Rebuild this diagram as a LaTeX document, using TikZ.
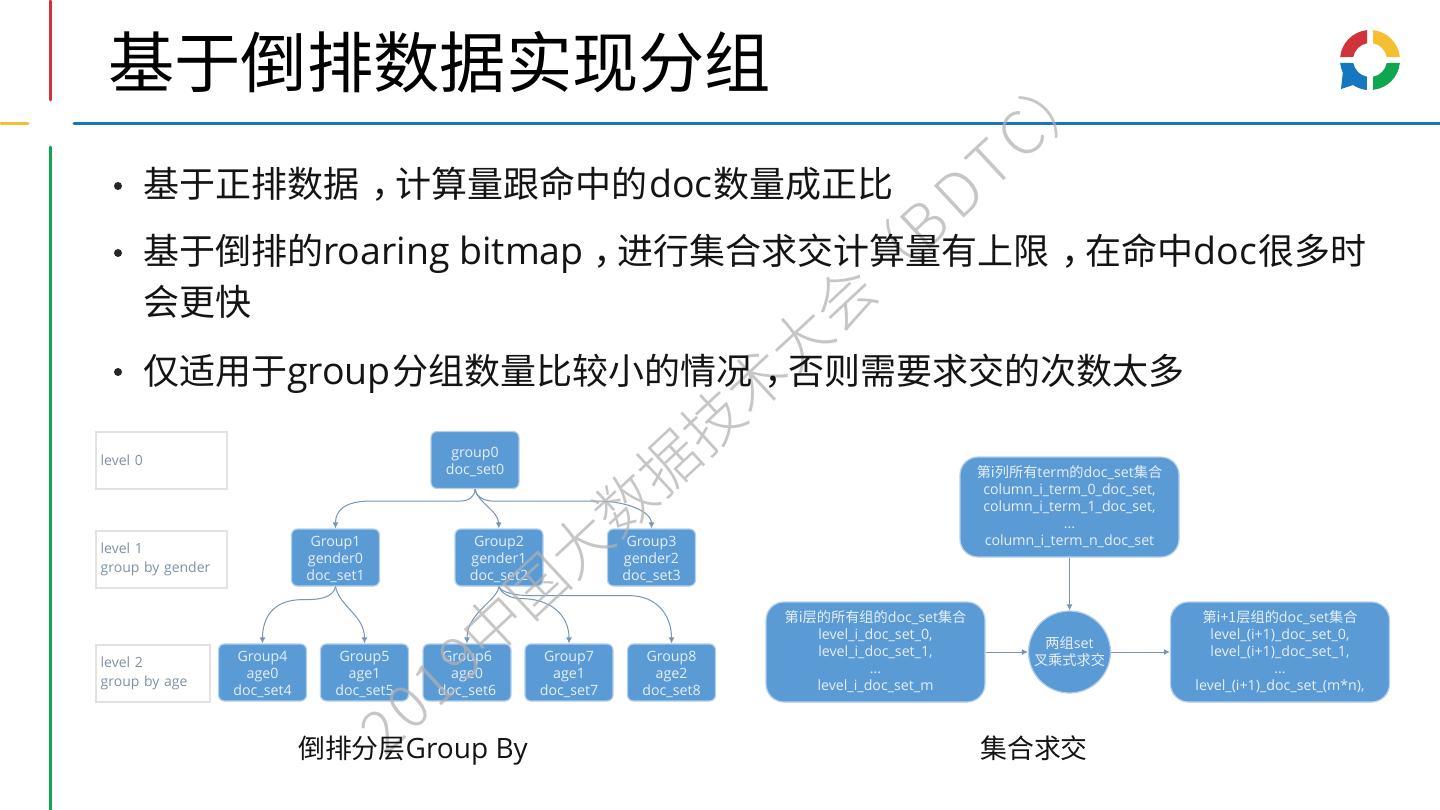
\documentclass[tikz,border=0pt]{standalone}
\usepackage{fontspec}
\usetikzlibrary{arrows.meta,calc}
\setmainfont{Open Sans}
\newfontfamily\cjk{Noto Sans CJK SC}[Scale=0.96]
\newfontfamily\cjks{Noto Sans CJK SC}
\newfontfamily\cjkl{Noto Sans CJK SC Light}
\newcommand{\C}[1]{{\cjk #1}}
\newcommand{\Cs}[1]{{\cjks #1}}
\newcommand{\CM}{{\cjk\hspace{.33em}，\hspace{-.33em}}}
\newcommand{\Tp}{\rule{0pt}{14.2pt}}
\definecolor{boxblue}{HTML}{5B9BD5}
\definecolor{boxedge}{HTML}{B4CFEA}
\definecolor{boxtext}{HTML}{E6EFF8}
\definecolor{conncol}{HTML}{7696B4}
\definecolor{lvltext}{HTML}{7F91A6}
\definecolor{lvledge}{HTML}{E2E2E2}
\definecolor{wm}{HTML}{B1B1B1}
\definecolor{railred}{HTML}{D2333A}
\definecolor{railyel}{HTML}{F4C032}
\definecolor{railgrn}{HTML}{0FA650}
\definecolor{railblu}{HTML}{1477C0}
\tikzset{
  x=1pt,y=-1pt,
  pbox/.style={draw=boxedge,fill=boxblue,line width=1.2pt,rounded corners=6pt,inner sep=0pt,align=center,text=boxtext,
    font=\fontsize{14.2}{17}\selectfont,minimum width=88pt,minimum height=57pt},
  bigbox/.style={pbox,rounded corners=18pt,minimum width=219pt,minimum height=100pt},
  lvl/.style={draw=lvledge,line width=2.4pt,fill=white,inner sep=0pt,text=lvltext,align=left,anchor=north west,
    font=\fontsize{14}{19}\selectfont,minimum height=57pt},
  conn/.style={draw=conncol,line width=1pt,-{Latex[length=6pt,width=6pt]}},
  body/.style={anchor=base west,inner sep=0pt,text=black!92,font=\fontsize{37.5}{40}\selectfont},
  bul/.style={circle,fill=black!85,inner sep=0pt,minimum size=8pt},
  captxt/.style={anchor=base,inner sep=0pt,text=black!92,font=\fontsize{28}{30}\selectfont},
  rail/.style={line width=3pt,line cap=round},
}
\begin{document}
\begin{tikzpicture}
\useasboundingbox (0,0) rectangle (1440,810);
\fill[white] (0,0) rectangle (1440,810);
% rails
\draw[rail,railred] (50.5,1) -- (50.5,100);
\draw[rail,railyel] (1,123.5) -- (28,123.5);
\draw[rail,railgrn] (50.5,147) -- (50.5,812);
\draw[rail,railblu] (74,123.5) -- (1442,123.5);
% title
\node[anchor=base west,inner sep=0pt,font=\fontsize{66.3}{70}\selectfont\cjks] (title) at (108,88) {基于倒排数据实现分组};
% logo
\begin{scope}[shift={(1370,60)},y=1pt]
\fill[railred] (95.7:30) arc[start angle=95.7,end angle=174.3,radius=30] -- (169.8:17) arc[start angle=169.8,end angle=100.2,radius=17] -- cycle;
\fill[railyel] (84.3:30) arc[start angle=84.3,end angle=5.7,radius=30] -- (10.2:17) arc[start angle=10.2,end angle=79.8,radius=17] -- cycle;
\fill[railgrn] (-5.7:30) arc[start angle=-5.7,end angle=-84.3,radius=30] -- (-79.8:17) arc[start angle=-79.8,end angle=-10.2,radius=17] -- cycle;
\fill[railblu] (-174.3:30) arc[start angle=-174.3,end angle=-155,radius=30] -- (-29,-29) -- (-17,-25) arc[start angle=-124,end angle=-95.7,radius=30] -- (-100.2:17) arc[start angle=-100.2,end angle=-169.8,radius=17] -- cycle;
\end{scope}
% level boxes
\node[lvl,minimum width=131pt,text width=121pt] (l0) at (94.5,431) {level 0};
\node[lvl,minimum width=131pt,text width=121pt] (l1) at (94.5,529.5) {level 1\\group by gender};
\node[lvl,minimum width=114pt,text width=104pt] (l2) at (94.5,644) {level 2\\group by age};
% left tree
\node[pbox] (g0) at (475,460) {\Tp group0\\doc\_set0};
\node[pbox] (g1) at (335.5,557.5) {\Tp Group1\\gender0\\doc\_set1};
\node[pbox] (g2) at (499,557.5) {\Tp Group2\\gender1\\doc\_set2};
\node[pbox] (g3) at (651.5,557.5) {\Tp Group3\\gender2\\doc\_set3};
\node[pbox] (g4) at (262.5,672.5) {\Tp Group4\\age0\\doc\_set4};
\node[pbox] (g5) at (364.5,672.5) {\Tp Group5\\age1\\doc\_set5};
\node[pbox] (g6) at (467,672.5) {\Tp Group6\\age0\\doc\_set6};
\node[pbox] (g7) at (569,672.5) {\Tp Group7\\age1\\doc\_set7};
\node[pbox] (g8) at (671.5,672.5) {\Tp Group8\\age2\\doc\_set8};
\draw[conn] (g0.south) .. controls +(0,8) and +(8,0) .. ++(-15,12) -- ++(-90,0) .. controls +(-25,0) and +(0,-18) .. (g1.north);
\draw[conn] (g0.south) .. controls +(3,14) and +(-1,-18) .. (g2.north);
\draw[conn] (g0.south) .. controls +(1,8) and +(-8,0) .. ++(18,12) -- ++(105,0) .. controls +(30,0) and +(0,-16) .. (g3.north);
\draw[conn] (g1.south) .. controls +(-2,10) and +(14,0) .. ++(-28,13) -- ++(-5,0) .. controls +(-30,0) and +(0,-25) .. (g4.north);
\draw[conn] (g1.south) .. controls +(4,20) and +(0,-28) .. (g5.north);
\draw[conn] (g2.south) .. controls +(-2,14) and +(0,-30) .. (g6.north);
\draw[conn] (g2.south) .. controls +(2,7) and +(-10,0) .. ++(22,12) .. controls +(30,0) and +(0,-28) .. (g7.north);
\draw[conn] (g2.south) .. controls +(2,6) and +(-12,0) .. ++(30,9) -- ++(100,0) .. controls +(28,0) and +(0,-28) .. (g8.north);
% right diagram
\node[bigbox] (top) at (1069.5,507) {\Cs{第i列所有}term\Cs{的}doc\_set\Cs{集合}\\column\_i\_term\_0\_doc\_set,\\column\_i\_term\_1\_doc\_set,\\...\\column\_i\_term\_n\_doc\_set};
\node[bigbox] (lft) at (875.5,652) {\Cs{第i层的所有组的}doc\_set\Cs{集合}\\level\_i\_doc\_set\_0,\\level\_i\_doc\_set\_1,\\...\\level\_i\_doc\_set\_m};
\node[bigbox] (rgt) at (1280,652) {\Cs{第i+1层组的}doc\_set\Cs{集合}\\level\_(i+1)\_doc\_set\_0,\\level\_(i+1)\_doc\_set\_1,\\...\\level\_(i+1)\_doc\_set\_(m*n),};
\node[draw=boxedge,fill=boxblue,line width=1.2pt,circle,inner sep=0pt,minimum size=82pt,align=center,text=boxtext,font=\fontsize{14.2}{17}\selectfont] (mid) at (1069.5,652) {\Cs{两组}set\\\Cs{叉乘式求交}};
\draw[conn] (top) -- (mid);
\draw[conn] (lft) -- (mid);
\draw[conn] (mid) -- (rgt);
% watermark
\node[anchor=base west,inner sep=0pt,rotate=43,text=wm,opacity=.72,font=\fontsize{60}{60}\selectfont\cjkl] (wmark) at (385,758) {{\addfontfeature{LetterSpace=6}2019}中国大数据技术大会（{\addfontfeature{LetterSpace=12}BDTC}）};
% bullets and body text
\node[bul] (b1) at (118,186) {};
\node[bul] (b2) at (118,253) {};
\node[bul] (b3) at (118,372) {};
\node[body] (t1) at (143,198) {\C{基于正排数据}\CM\C{计算量跟命中的}\hspace{2pt}doc\hspace{1pt}\C{数量成正比}};
\node[body] (t2) at (143,265) {\C{基于倒排的}roaring bitmap\hspace{-2pt}\CM\C{进行集合求交计算量有上限}\CM\C{在命中}doc\hspace{1pt}\C{很多时}};
\node[body] (t3) at (143,316) {\C{会更快}};
\node[body] (t4) at (143,384) {\C{仅适用于}group\hspace{2pt}\C{分组数量比较小的情况}\CM\C{否则需要求交的次数太多}};
\node[captxt] (c1) at (413,758) {\C{倒排分层}Group By};
\node[captxt] (c2) at (1034,758) {\C{集合求交}};
\end{tikzpicture}
\end{document}
